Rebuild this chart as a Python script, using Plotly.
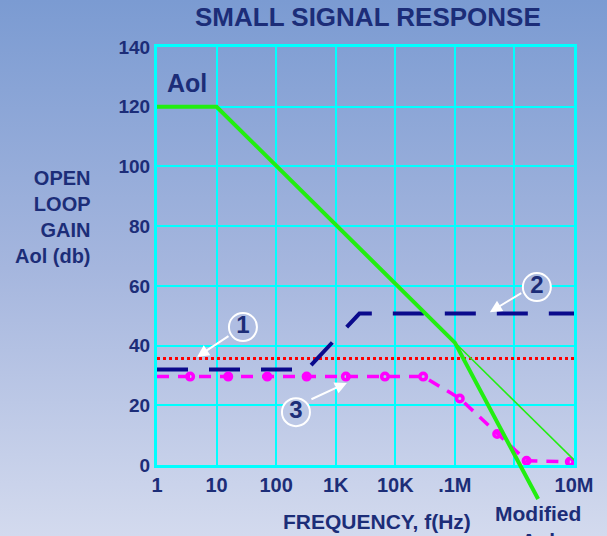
import base64
import math
import plotly.graph_objects as go

# ---------------- data ----------------
aol_freq = [1, 10, 1e5, 2.5e6]          # modified open-loop gain (thick)
aol_gain = [120, 120, 41, -11.4]
aol_thin_freq = [1e5, 1e7]              # original Aol continuation (thin)
aol_thin_gain = [41, 1.7]
line1_freq = [1, 1e7]                   # curve 1 (red dotted)
line1_gain = [35.7, 35.7]
line2_freq = [1, 330, 2500, 1e7]        # curve 2 (blue dashed)
line2_gain = [32, 32, 50.7, 50.7]
line3_start_freq = 1                    # curve 3 (magenta dashed, circles)
line3_start_gain = 29.6
line3_freq = [3.6, 15.7, 71, 325, 1480, 6700, 29400, 121000, 513000, 1.6e6, 8.5e6]
line3_gain = [29.6, 29.6, 29.6, 29.6, 29.6, 29.6, 29.6, 22.3, 10.4, 1.4, 1.1]

x_tickvals = [1, 10, 100, 1e3, 1e4, 1e5, 1e6, 1e7]
x_ticktext = ["1", "10", "100", "1K", "10K", ".1M", "", "10M"]
y_tickvals = [0, 20, 40, 60, 80, 100, 120, 140]
y_ticktext = ["0", "20", "40", "60", "80", "100", "120", "140"]

callout_text = ["1", "2", "3"]
callout_freq = [27.7, 2.38e6, 215]
callout_gain = [46.2, 59.6, 17.7]
arrow_head_freq = [4.7, 3.87e5, 1540]
arrow_head_gain = [36.2, 51.2, 27.5]
arrow_tail_freq = [16.8, 1.38e6, 369]
arrow_tail_gain = [43.5, 57.9, 21.8]

# ---------------- layout geometry ----------------
W, H = 607, 536
ML, MR, MT, MB = 157, 33, 47, 30
PW, PH = W - ML - MR, H - MT - MB
AXIS_BOTTOM_PX = 465          # pixel row of gain = 0
YMAX = 140
ppu = (AXIS_BOTTOM_PX - MT) / YMAX
y_dom_low = (H - MB - AXIS_BOTTOM_PX) / PH
y2_min = -(H - MB - AXIS_BOTTOM_PX) / ppu


def px2x(px):
    return (px - ML) / PW


def py2y(py):
    return (H - MB - py) / PH


def bold(labels):
    return [f"<b>{t}</b>" if t else "" for t in labels]


NAVY = "#1c2d78"
CYAN = "#00ffff"
FONT = "Liberation Sans"

# background gradient as an inline SVG image
svg = (
    f'<svg xmlns="http://www.w3.org/2000/svg" width="{W}" height="{H}" preserveAspectRatio="none">'
    '<defs><linearGradient id="g" x1="0" y1="0" x2="0" y2="1">'
    '<stop offset="0" stop-color="#7b9bd2"/>'
    '<stop offset="0.5" stop-color="#a5b6de"/>'
    '<stop offset="1" stop-color="#d3daee"/>'
    '</linearGradient></defs>'
    f'<rect width="{W}" height="{H}" fill="url(#g)"/></svg>'
)
bg_uri = "data:image/svg+xml;base64," + base64.b64encode(svg.encode()).decode()

fig = go.Figure()

# curve 1: red dotted
fig.add_trace(go.Scatter(x=line1_freq, y=line1_gain, mode="lines",
                         line=dict(color="#ff0000", width=3, dash="3px,3px")))
# curve 2: navy dashed
fig.add_trace(go.Scatter(x=line2_freq, y=line2_gain, mode="lines",
                         line=dict(color="#0a0a8c", width=4, dash="31px,21px")))
# curve 3: magenta dashed + circles
fig.add_trace(go.Scatter(x=[line3_start_freq] + line3_freq,
                         y=[line3_start_gain] + line3_gain, mode="lines",
                         line=dict(color="#ff00ff", width=3.5, dash="12px,9px")))
fig.add_trace(go.Scatter(x=line3_freq, y=line3_gain, mode="markers",
                         marker=dict(symbol="circle-open", size=6.5, color="#ff00ff",
                                     line=dict(width=3.5, color="#ff00ff"))))
# thin Aol continuation
fig.add_trace(go.Scatter(x=aol_thin_freq, y=aol_thin_gain, mode="lines",
                         line=dict(color="#22ee11", width=1.5)))
# thick (modified) Aol, on an extended overlay axis so it can run below 0
fig.add_trace(go.Scatter(x=aol_freq, y=aol_gain, mode="lines", xaxis="x2", yaxis="y2",
                         line=dict(color="#22ee11", width=4)))
# callout circles with numbers
fig.add_trace(go.Scatter(x=callout_freq, y=callout_gain, mode="markers+text",
                         text=bold(callout_text), textposition="middle center",
                         textfont=dict(family=FONT, size=24, color=NAVY),
                         marker=dict(symbol="circle", size=28,
                                     color=["#afbde2", "#a9b9df", "#bcc8e6"],
                                     line=dict(width=2, color="white"))))

annotations = []
for hf, hg, tf, tg in zip(arrow_head_freq, arrow_head_gain, arrow_tail_freq, arrow_tail_gain):
    annotations.append(dict(x=math.log10(hf), y=hg, xref="x", yref="y",
                            ax=math.log10(tf), ay=tg, axref="x", ayref="y",
                            text="", showarrow=True, arrowhead=2, arrowsize=1.2,
                            arrowwidth=2, arrowcolor="white"))

annotations += [
    dict(x=px2x(368), y=py2y(17), xref="paper", yref="paper",
         text="<b>SMALL SIGNAL RESPONSE</b>", showarrow=False,
         font=dict(family=FONT, size=26, color=NAVY), xanchor="center", yanchor="middle"),
    dict(x=px2x(93), y=py2y(217), xref="paper", yref="paper",
         text="<b>OPEN<br>LOOP<br>GAIN<br>Aol (db)</b>", showarrow=False, align="right",
         font=dict(family=FONT, size=20, color=NAVY), xanchor="right", yanchor="middle"),
    dict(x=px2x(377), y=py2y(521), xref="paper", yref="paper",
         text="<b>FREQUENCY, f(Hz)</b>", showarrow=False,
         font=dict(family=FONT, size=21, color=NAVY), xanchor="center", yanchor="middle"),
    dict(x=px2x(538), y=py2y(500), xref="paper", yref="paper",
         text="<b>Modified<br>Aol</b>", showarrow=False, align="center",
         font=dict(family=FONT, size=21, color=NAVY), xanchor="center", yanchor="top"),
    dict(x=math.log10(3.2), y=128, xref="x", yref="y",
         text="<b>Aol</b>", showarrow=False,
         font=dict(family=FONT, size=25, color=NAVY), xanchor="center", yanchor="middle"),
]

fig.update_layout(
    width=W, height=H,
    margin=dict(l=ML, r=MR, t=MT, b=MB),
    paper_bgcolor="rgba(0,0,0,0)", plot_bgcolor="rgba(0,0,0,0)",
    showlegend=False,
    images=[dict(source=bg_uri, xref="paper", yref="paper",
                 x=-ML / PW, y=1 + MT / PH, sizex=W / PW, sizey=H / PH,
                 sizing="stretch", xanchor="left", yanchor="top", layer="below")],
    xaxis=dict(type="log", range=[0, 7], domain=[0, 1], anchor="y",
               tickvals=x_tickvals, ticktext=bold(x_ticktext),
               tickfont=dict(family=FONT, size=20, color=NAVY), ticks="",
               showgrid=True, gridcolor=CYAN, gridwidth=2,
               showline=True, linecolor=CYAN, linewidth=3, mirror=True,
               zeroline=False),
    yaxis=dict(range=[0, YMAX], domain=[y_dom_low, 1], anchor="x",
               tickvals=y_tickvals, ticktext=bold(y_ticktext),
               tickfont=dict(family=FONT, size=19, color=NAVY), ticks="",
               showgrid=True, gridcolor=CYAN, gridwidth=2,
               showline=True, linecolor=CYAN, linewidth=3, mirror=True,
               zeroline=False),
    xaxis2=dict(type="log", range=[0, 7], domain=[0, 1], anchor="y2",
                visible=False, showgrid=False, zeroline=False),
    yaxis2=dict(range=[y2_min, YMAX], domain=[0, 1], anchor="x2",
                visible=False, showgrid=False, zeroline=False),
    annotations=annotations,
)

fig.write_html("out.html", config={"displayModeBar": False, "staticPlot": True},
               post_script="document.body.style.margin='0';document.body.style.overflow='hidden';")
